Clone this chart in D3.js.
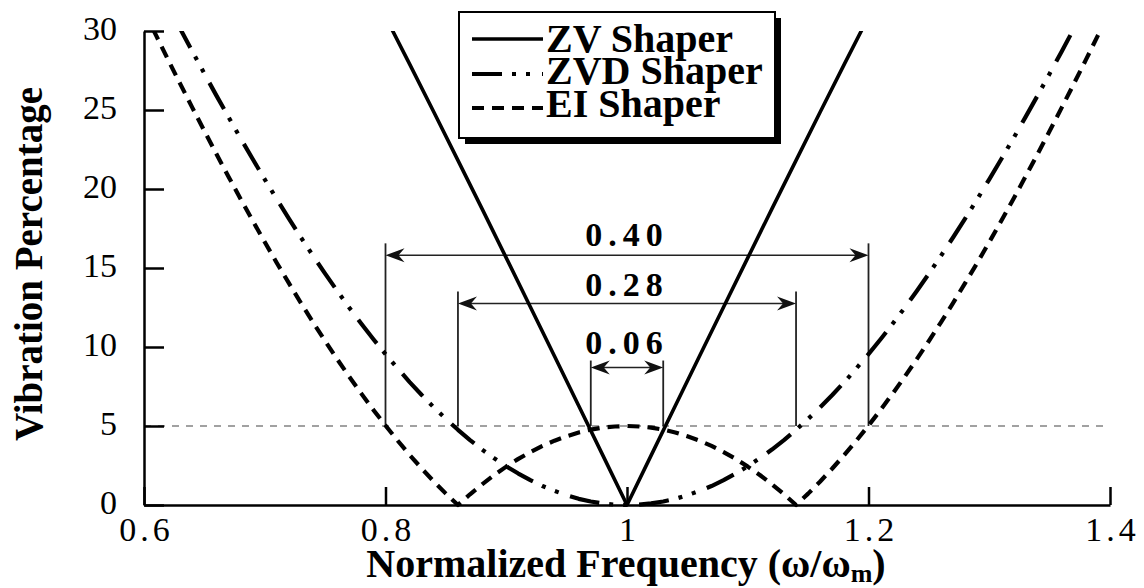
<!DOCTYPE html>
<html>
<head>
<meta charset="utf-8">
<script src="https://cdn.jsdelivr.net/npm/d3@7"></script>
<style>
  html, body { margin: 0; padding: 0; background: #fff; }
  svg { display: block; }
  text { font-family: "Liberation Serif", "Times New Roman", serif; fill: #000; }
</style>
</head>
<body>
<svg id="chart" width="1144" height="588"></svg>
<script>
// Normalized frequency grid (omega / omega_m)
const freq = [0.60, 0.61, 0.62, 0.63, 0.64, 0.65, 0.66, 0.67, 0.68, 0.69,
              0.70, 0.71, 0.72, 0.73, 0.74, 0.75, 0.76, 0.77, 0.78, 0.79,
              0.80, 0.81, 0.82, 0.83, 0.84, 0.85, 0.86, 0.87, 0.88, 0.89,
              0.90, 0.91, 0.92, 0.93, 0.94, 0.95, 0.96, 0.97, 0.98, 0.99,
              1.00, 1.01, 1.02, 1.03, 1.04, 1.05, 1.06, 1.07, 1.08, 1.09,
              1.10, 1.11, 1.12, 1.13, 1.14, 1.15, 1.16, 1.17, 1.18, 1.19,
              1.20, 1.21, 1.22, 1.23, 1.24, 1.25, 1.26, 1.27, 1.28, 1.29,
              1.30, 1.31, 1.32, 1.33, 1.34, 1.35, 1.36, 1.37, 1.38, 1.39, 1.40];

// Residual vibration (%) of the ZVD shaper on the freq grid
const zvdVib = [34.55, 33.06, 31.59, 30.14, 28.71, 27.30, 25.91, 24.55, 23.21, 21.90,
                20.61, 19.35, 18.13, 16.93, 15.77, 14.64, 13.55, 12.49, 11.47, 10.49,
                9.55, 8.65, 7.78, 6.96, 6.18, 5.45, 4.76, 4.11, 3.51, 2.96,
                2.45, 1.99, 1.57, 1.20, 0.89, 0.62, 0.39, 0.22, 0.10, 0.02,
                0.00, 0.02, 0.10, 0.22, 0.39, 0.62, 0.89, 1.20, 1.57, 1.99,
                2.45, 2.96, 3.51, 4.11, 4.76, 5.45, 6.18, 6.96, 7.78, 8.65,
                9.55, 10.49, 11.47, 12.49, 13.55, 14.64, 15.77, 16.93, 18.13, 19.35,
                20.61, 21.90, 23.21, 24.55, 25.91, 27.30, 28.71, 30.14, 31.59, 33.06, 34.55];

// Residual vibration (%) of the EI shaper on the freq grid
const eiVib = [31.28, 29.72, 28.17, 26.65, 25.15, 23.67, 22.21, 20.78, 19.37, 17.99,
               16.64, 15.32, 14.04, 12.78, 11.56, 10.38, 9.23, 8.12, 7.05, 6.02,
               5.03, 4.08, 3.17, 2.31, 1.49, 0.72, 0.00, 0.68, 1.31, 1.90,
               2.43, 2.92, 3.35, 3.74, 4.07, 4.35, 4.59, 4.77, 4.90, 4.97,
               5.00, 4.97, 4.90, 4.77, 4.59, 4.35, 4.07, 3.74, 3.35, 2.92,
               2.43, 1.90, 1.31, 0.68, 0.00, 0.72, 1.49, 2.31, 3.17, 4.08,
               5.03, 6.02, 7.05, 8.12, 9.23, 10.38, 11.56, 12.78, 14.04, 15.32,
               16.64, 17.99, 19.37, 20.78, 22.21, 23.67, 25.15, 26.65, 28.17, 29.72, 31.28];

// ZV shaper: nearly straight branches, sampled more coarsely
const zvFreq = [0.80, 0.82, 0.84, 0.86, 0.88, 0.90, 0.92, 0.94, 0.96, 0.98,
                1.00, 1.02, 1.04, 1.06, 1.08, 1.10, 1.12, 1.14, 1.16, 1.18, 1.20];
const zvVib = [30.90, 27.90, 24.87, 21.81, 18.74, 15.64, 12.53, 9.41, 6.28, 3.14,
               0.00, 3.14, 6.28, 9.41, 12.53, 15.64, 18.74, 21.81, 24.87, 27.90, 30.90];

const seriesNames = ["ZV Shaper", "ZVD Shaper", "EI Shaper"];

const xTicks = [0.6, 0.8, 1.0, 1.2, 1.4];
const xTickLabels = ["0.6", "0.8", "1", "1.2", "1.4"];
const yTicks = [0, 5, 10, 15, 20, 25, 30];

// Tolerance level (%)
const vTol = 5;

// Insensitivity widths at the tolerance level
const bandLo = [0.80, 0.86, 0.97];
const bandHi = [1.20, 1.14, 1.03];

// ---- layout ----
const svg = d3.select("#chart");
const x = d3.scaleLinear().domain([0.6, 1.4]).range([144, 1110]);
const y = d3.scaleLinear().domain([0, 30]).range([505, 31]);

const styles = [
  { width: 3.6, dash: null },
  { width: 4.2, dash: "30,10,4,10,4,12" },
  { width: 4.2, dash: "12,8" }
];

const defs = svg.append("defs");
defs.append("clipPath").attr("id", "plotClip")
  .append("rect")
  .attr("x", x(0.6)).attr("y", y(30))
  .attr("width", x(1.4) - x(0.6)).attr("height", y(0) - y(30) + 4);

// tolerance reference line
svg.append("line")
  .attr("x1", x(0.6)).attr("x2", x(1.4) - 5)
  .attr("y1", y(vTol)).attr("y2", y(vTol))
  .attr("stroke", "#444").attr("stroke-width", 1.2)
  .attr("stroke-dasharray", "7,7");

// dimension annotations
const arrowLevel = [15.8, 12.75, 8.7];   // arrow height (%)
const tickAbove = [12, 12, 7];          // vertical line rises above arrow (px)
const labelAbove = [9, 8, 14];          // label baseline above arrow (px)

function arrowHead(xt, yt, dir) {
  return `M${xt},${yt} L${xt - dir * 19},${yt - 7} L${xt - dir * 13},${yt} L${xt - dir * 19},${yt + 7} Z`;
}

const ann = svg.append("g");
bandLo.forEach((lo, i) => {
  const hi = bandHi[i];
  const ya = y(arrowLevel[i]);
  [lo, hi].forEach(v => {
    ann.append("line")
      .attr("x1", x(v)).attr("x2", x(v))
      .attr("y1", ya - tickAbove[i]).attr("y2", y(vTol))
      .attr("stroke", "#222").attr("stroke-width", 1.8);
  });
  ann.append("line")
    .attr("x1", x(lo) + 4).attr("x2", x(hi) - 4)
    .attr("y1", ya).attr("y2", ya)
    .attr("stroke", "#222").attr("stroke-width", 1.5);
  ann.append("path").attr("d", arrowHead(x(lo), ya, -1)).attr("fill", "#111");
  ann.append("path").attr("d", arrowHead(x(hi), ya, 1)).attr("fill", "#111");
  ann.append("text")
    .attr("x", (x(lo) + x(hi)) / 2)
    .attr("y", ya - labelAbove[i])
    .attr("text-anchor", "middle")
    .attr("font-size", 34).attr("font-weight", "bold")
    .attr("letter-spacing", 6)
    .text((hi - lo).toFixed(2));
});

// curves
const line = d3.line().x(d => x(d[0])).y(d => y(d[1]));
const curveData = [
  d3.zip(zvFreq, zvVib),
  d3.zip(freq, zvdVib),
  d3.zip(freq, eiVib)
];
const curves = svg.append("g").attr("clip-path", "url(#plotClip)");
curveData.forEach((pts, i) => {
  curves.append("path")
    .attr("d", line(pts))
    .attr("fill", "none")
    .attr("stroke", "#000")
    .attr("stroke-width", styles[i].width)
    .attr("stroke-dasharray", styles[i].dash)
    .attr("stroke-linejoin", "round");
});

// axes
const gx = svg.append("g")
  .attr("transform", `translate(0,${y(0)})`)
  .call(d3.axisBottom(x).tickValues(xTicks)
    .tickFormat((d, i) => xTickLabels[i])
    .tickSizeInner(-18).tickSizeOuter(0).tickPadding(12));
const gy = svg.append("g")
  .attr("transform", `translate(${x(0.6)},0)`)
  .call(d3.axisLeft(y).tickValues(yTicks)
    .tickSizeInner(-20).tickSizeOuter(0).tickPadding(27));
[gx, gy].forEach(g => {
  g.selectAll("path, line").attr("stroke", "#000").attr("stroke-width", 2.5);
  g.selectAll("text")
    .attr("font-family", "Liberation Serif, Times New Roman, serif")
    .attr("font-size", 34).attr("fill", "#000");
});
gy.selectAll("text").attr("dy", "0.24em");
gx.selectAll("text").attr("letter-spacing", 4).attr("dx", 2);

// axis titles
const xTitle = svg.append("text")
  .attr("x", 626).attr("y", 577)
  .attr("text-anchor", "middle")
  .attr("font-size", 40).attr("font-weight", "bold");
xTitle.append("tspan").text("Normalized Frequency (\u03c9/\u03c9");
xTitle.append("tspan").attr("font-size", 26).attr("dy", 5).text("m");
xTitle.append("tspan").attr("dy", -5).text(")");

svg.append("text")
  .attr("transform", "translate(42,264) rotate(-90)")
  .attr("text-anchor", "middle")
  .attr("font-size", 39).attr("font-weight", "bold")
  .text("Vibration Percentage");

// legend
const lg = svg.append("g");
lg.append("rect").attr("x", 465).attr("y", 18).attr("width", 316).attr("height", 126).attr("fill", "#000");
lg.append("rect").attr("x", 459).attr("y", 12).attr("width", 316).attr("height", 126)
  .attr("fill", "#fff").attr("stroke", "#000").attr("stroke-width", 2);
const rowLine = [39, 74, 108];
const rowText = [52, 84, 117];
seriesNames.forEach((name, i) => {
  lg.append("line")
    .attr("x1", 472).attr("x2", 543)
    .attr("y1", rowLine[i]).attr("y2", rowLine[i])
    .attr("stroke", "#000")
    .attr("stroke-width", styles[i].width)
    .attr("stroke-dasharray", styles[i].dash);
  lg.append("text")
    .attr("x", 546).attr("y", rowText[i])
    .attr("font-size", 40).attr("font-weight", "bold")
    .text(name);
});
</script>
</body>
</html>
